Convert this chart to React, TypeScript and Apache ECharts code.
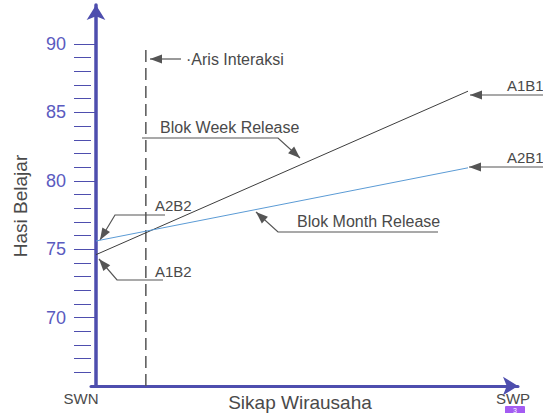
import React, { useEffect, useRef } from "react";
import * as echarts from "echarts";

const xEnds = [0, 1];
const a1b1 = [74.6, 86.55];
const a2b1 = [75.6, 80.95];
const majorTicks = [70, 75, 80, 85, 90];
const minorTicks = [66, 67, 68, 69, 71, 72, 73, 74, 76, 77, 78, 79, 81, 82, 83, 84, 86, 87, 88, 89];
const interactionX = 0.134;
const xLabels = ["SWN", "SWP"];
const yName = "Hasi Belajar";
const xName = "Sikap Wirausaha";

const AX = "#4e4eae";
const LBL = "#5a5ac0";
const TXT = "#4a4a4a";
const ANN = "#555555";
const FF = '"Liberation Sans", Arial, sans-serif';

function arrowHead(tx: number, ty: number, fx: number, fy: number) {
  const dx = tx - fx;
  const dy = ty - fy;
  const len = Math.sqrt(dx * dx + dy * dy);
  const ux = dx / len;
  const uy = dy / len;
  const L = 12;
  const W = 4.5;
  const bx = tx - ux * L;
  const by = ty - uy * L;
  return {
    type: "polygon",
    silent: true,
    shape: {
      points: [
        [tx, ty],
        [bx - uy * W, by + ux * W],
        [bx + uy * W, by - ux * W],
      ],
    },
    style: { fill: ANN },
  };
}

function callout(points: number[][]) {
  const n = points.length;
  const tip = points[n - 1];
  const prev = points[n - 2];
  return [
    {
      type: "polyline",
      silent: true,
      shape: { points },
      style: { stroke: ANN, lineWidth: 1.2, fill: null },
    },
    arrowHead(tip[0], tip[1], prev[0], prev[1]),
  ];
}

function label(text: string, x: number, y: number, size = 16, align = "left") {
  return {
    type: "text",
    silent: true,
    x,
    y,
    style: {
      text,
      fill: TXT,
      fontSize: size,
      fontFamily: FF,
      align,
      verticalAlign: "middle",
    },
  };
}

export default function App() {
  const ref = useRef<HTMLDivElement>(null);
  useEffect(() => {
    if (!ref.current) return;
    const chart = echarts.init(ref.current, null, { renderer: "svg" });
    const graphic: any[] = [
      ...callout([[181, 59], [150, 59]]),
      label("·Aris Interaksi", 186, 59),
      ...callout([[142, 138], [278, 138], [300, 158]]),
      label("Blok Week Release", 160, 127),
      ...callout([[438, 232], [278, 232], [256, 212]]),
      label("Blok Month Release", 297, 221),
      ...callout([[543, 95], [470, 95]]),
      label("A1B1", 507, 85, 15),
      ...callout([[543, 167], [469, 167]]),
      label("A2B1", 507, 157, 15),
      ...callout([[165, 215], [115, 215], [100, 240]]),
      label("A2B2", 155, 205, 15),
      ...callout([[163, 280], [117, 280], [99, 259]]),
      label("A1B2", 155, 271, 15),
      label(xLabels[0], 81, 398, 15, "center"),
      label(xLabels[1], 513, 398, 15, "center"),
      label(xName, 300, 402, 19, "center"),
      {
        type: "text",
        silent: true,
        x: 20,
        y: 206,
        rotation: Math.PI / 2,
        style: {
          text: yName,
          fill: TXT,
          fontSize: 19,
          fontFamily: FF,
          align: "center",
          verticalAlign: "middle",
        },
      },
      {
        type: "rect",
        silent: true,
        shape: { x: 505, y: 406, width: 20, height: 9, r: 1 },
        style: { fill: "#a45cf2" },
      },
      {
        type: "text",
        silent: true,
        x: 515,
        y: 410,
        style: { text: "3", fill: "#ffffff", fontSize: 7, fontFamily: FF, align: "center", verticalAlign: "middle" },
      },
    ];
    chart.setOption({
      animation: false,
      backgroundColor: "#ffffff",
      grid: [
        { left: 96, right: 75, top: 44, bottom: 27 },
        { left: 91, right: 25, top: 5, bottom: 27 },
      ],
      xAxis: [
        { gridIndex: 0, type: "value", min: 0, max: 1, show: false },
        {
          gridIndex: 1,
          type: "value",
          min: 0,
          max: 1,
          axisLine: {
            show: true,
            symbol: ["none", "arrow"],
            symbolSize: [14, 15],
            lineStyle: { color: AX, width: 3 },
          },
          axisTick: { show: false },
          axisLabel: { show: false },
          splitLine: { show: false },
        },
      ],
      yAxis: [
        {
          gridIndex: 0,
          type: "value",
          position: "left",
          min: 65,
          max: 90,
          offset: 5,
          axisLine: { show: true, lineStyle: { color: AX, width: 1 } },
          axisTick: { show: true, customValues: majorTicks, length: 22, lineStyle: { color: AX, width: 1 } },
          axisLabel: { customValues: majorTicks, color: LBL, fontSize: 18, margin: 25, fontFamily: FF },
          splitLine: { show: false },
        },
        {
          gridIndex: 0,
          type: "value",
          position: "left",
          min: 65,
          max: 90,
          offset: 5,
          axisLine: { show: false },
          axisTick: { show: true, customValues: minorTicks, length: 17, lineStyle: { color: AX, width: 1 } },
          axisLabel: { show: false },
          splitLine: { show: false },
        },
        {
          gridIndex: 1,
          type: "value",
          position: "left",
          min: 0,
          max: 1,
          offset: -5,
          axisLine: {
            show: true,
            symbol: ["none", "arrow"],
            symbolSize: [14, 15],
            lineStyle: { color: AX, width: 3.5 },
          },
          axisTick: { show: false },
          axisLabel: { show: false },
          splitLine: { show: false },
        },
      ],
      series: [
        {
          type: "line",
          name: "Aris Interaksi",
          xAxisIndex: 0,
          yAxisIndex: 0,
          symbol: "none",
          data: [[interactionX, 65], [interactionX, 90]],
          lineStyle: { color: "#555555", width: 1.5, type: [12, 6] },
          silent: true,
        },
        {
          type: "line",
          name: "A1B1",
          xAxisIndex: 0,
          yAxisIndex: 0,
          symbol: "none",
          data: xEnds.map((x, i) => [x, a1b1[i]]),
          lineStyle: { color: "#3d3d3d", width: 1 },
          silent: true,
        },
        {
          type: "line",
          name: "A2B1",
          xAxisIndex: 0,
          yAxisIndex: 0,
          symbol: "none",
          data: xEnds.map((x, i) => [x, a2b1[i]]),
          lineStyle: { color: "#5b9bd5", width: 1 },
          silent: true,
        },
      ],
      graphic,
    });
    return () => chart.dispose();
  }, []);
  return (
    <div
      ref={ref}
      style={{ position: "fixed", left: 0, top: 0, width: 543, height: 413 }}
    />
  );
}
